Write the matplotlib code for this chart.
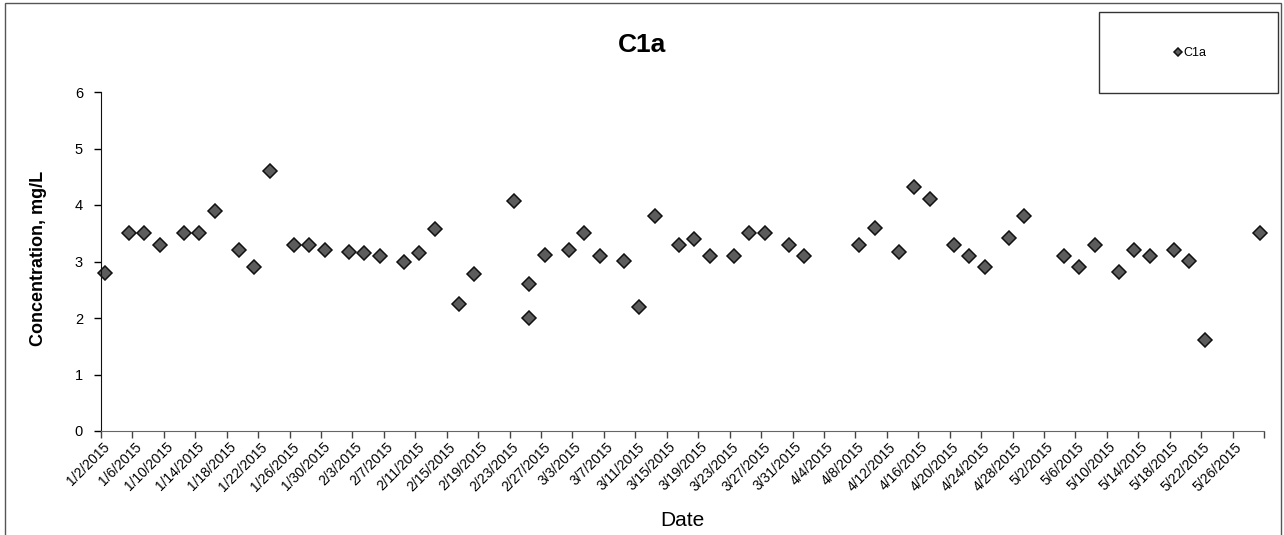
import matplotlib
matplotlib.use("Agg")
import matplotlib.pyplot as plt
from matplotlib.patches import Rectangle
from matplotlib.transforms import ScaledTranslation
import pandas as pd

plt.rcParams['font.family'] = ['Liberation Sans', 'DejaVu Sans']

dates = ['2015-01-02', '2015-01-05', '2015-01-07', '2015-01-09', '2015-01-12', '2015-01-14',
         '2015-01-16', '2015-01-19', '2015-01-21', '2015-01-23', '2015-01-26', '2015-01-28',
         '2015-01-30', '2015-02-02', '2015-02-04', '2015-02-06', '2015-02-09', '2015-02-11',
         '2015-02-13', '2015-02-16', '2015-02-18', '2015-02-23', '2015-02-25', '2015-02-25',
         '2015-02-27', '2015-03-02', '2015-03-04', '2015-03-06', '2015-03-09', '2015-03-11',
         '2015-03-13', '2015-03-16', '2015-03-18', '2015-03-20', '2015-03-23', '2015-03-25',
         '2015-03-27', '2015-03-30', '2015-04-01', '2015-04-08', '2015-04-10', '2015-04-13',
         '2015-04-15', '2015-04-17', '2015-04-20', '2015-04-22', '2015-04-24', '2015-04-27',
         '2015-04-29', '2015-05-04', '2015-05-06', '2015-05-08', '2015-05-11', '2015-05-13',
         '2015-05-15', '2015-05-18', '2015-05-20', '2015-05-22', '2015-05-29']
c1a = [2.8, 3.5, 3.5, 3.3, 3.5, 3.5,
       3.9, 3.2, 2.9, 4.6, 3.3, 3.3,
       3.2, 3.17, 3.15, 3.1, 3.0, 3.15,
       3.57, 2.25, 2.77, 4.07, 2.6, 2.0,
       3.11, 3.2, 3.5, 3.1, 3.01, 2.2,
       3.8, 3.3, 3.4, 3.1, 3.1, 3.5,
       3.5, 3.3, 3.1, 3.3, 3.6, 3.16,
       4.31, 4.11, 3.3, 3.1, 2.9, 3.41,
       3.81, 3.1, 2.91, 3.3, 2.81, 3.21,
       3.1, 3.21, 3.01, 1.61, 3.51]

axis_start = '2015-01-02'
axis_end = '2015-05-30'

# Excel puts date points in the middle of the day slot
x = pd.to_datetime(dates) + pd.Timedelta(hours=12)
ticks = pd.date_range(axis_start, axis_end, freq='4D')
tick_labels = [f"{d.month}/{d.day}/{d.year}" for d in ticks[:-1]] + ['']

fig = plt.figure(figsize=(12.84, 5.35), dpi=100)
ax = fig.add_axes([101 / 1284, 1 - 431 / 535, 1163 / 1284, 339 / 535])

ax.plot(x, c1a, linestyle='none', marker='D', markersize=6.8,
        markerfacecolor='#5c5c5c', markeredgecolor='#111111', markeredgewidth=1.1,
        label='C1a', clip_on=False)

ax.set_xlim(pd.Timestamp(axis_start), pd.Timestamp(axis_end))
ax.set_ylim(0, 6)
ax.set_yticks(range(0, 7))
ax.set_xticks(ticks)
ax.set_xticklabels(tick_labels, rotation=45, ha='right', va='center',
                   rotation_mode='anchor', fontsize=10)
ax.tick_params(axis='x', length=5, width=1, color='#444444', pad=5)
ax.tick_params(axis='y', length=5, width=1, labelsize=10.5, pad=8)
shift = ScaledTranslation(5 / 72, 0, fig.dpi_scale_trans)
for lbl in ax.get_xticklabels():
    lbl.set_transform(lbl.get_transform() + shift)

for s in ['top', 'right']:
    ax.spines[s].set_visible(False)
ax.spines['left'].set_color('#111111')
ax.spines['bottom'].set_color('#666666')

ax.set_xlabel('Date', fontsize=15)
ax.xaxis.set_label_coords(0.5, -0.265)
ax.xaxis.label.set_va('center')
ax.set_ylabel('Concentration, mg/L', fontsize=13, fontweight='bold')
ax.yaxis.set_label_coords(-0.054, 0.51)
ax.yaxis.label.set_va('center')

fig.text(642 / 1284, 1 - 45 / 535, 'C1a', fontsize=19, fontweight='bold',
         ha='center', va='center')

# legend box
fig.patches.append(Rectangle((1099 / 1284, 1 - 93 / 535), 179 / 1284, 81 / 535,
                             transform=fig.transFigure, fill=False,
                             edgecolor='#333333', linewidth=1))
fig.legend(loc='center', bbox_to_anchor=(1190 / 1284, 1 - 53 / 535), frameon=False,
           fontsize=9, handlelength=0.6, handletextpad=0.1, markerscale=0.55)

# outer chart border
fig.patches.append(Rectangle((5 / 1284, -0.05), 1276 / 1284, 1.05 - 3 / 535,
                             transform=fig.transFigure, fill=False,
                             edgecolor='#555555', linewidth=1))

fig.savefig('out.png', dpi=100)
